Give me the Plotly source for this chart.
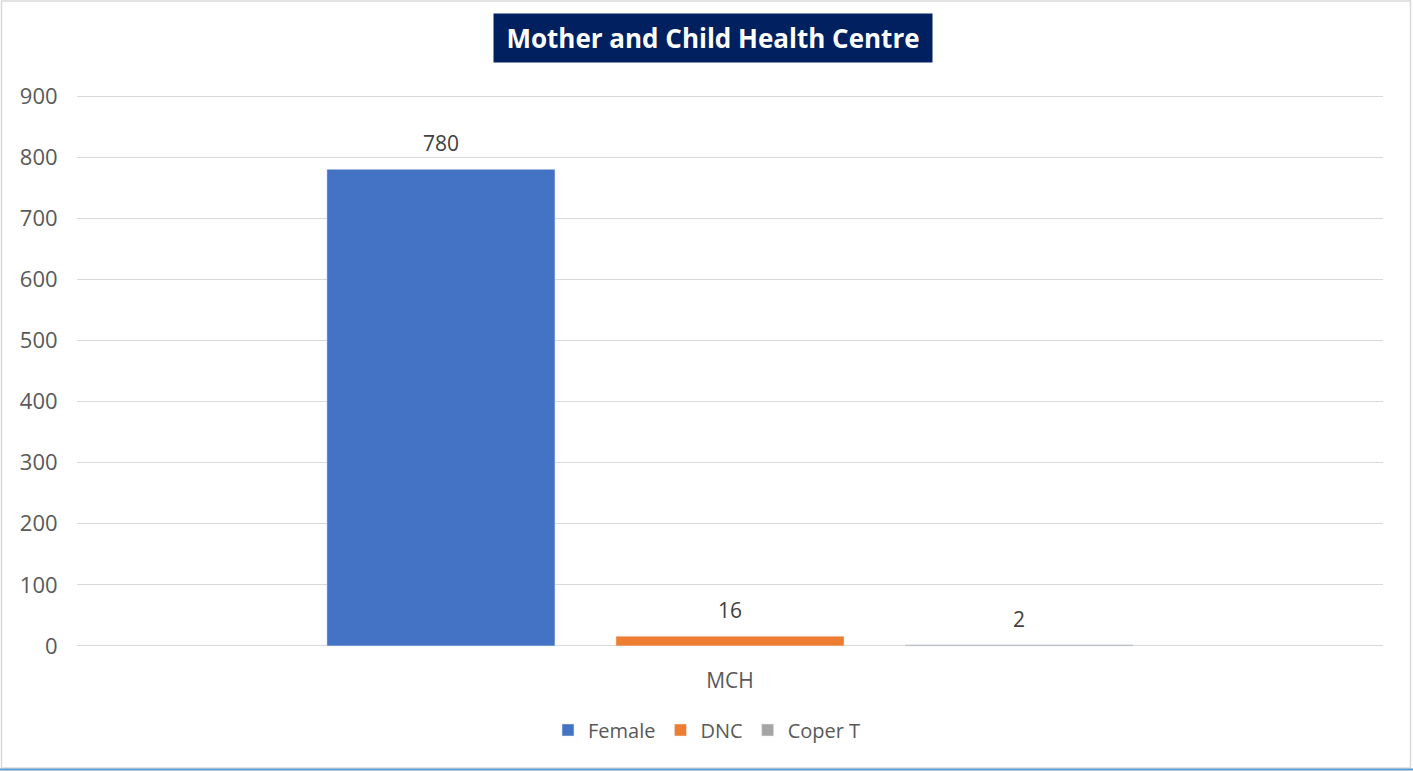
import plotly.graph_objects as go

categories = ["MCH"]
series_names = ["Female", "DNC", "Coper T"]
series_values = [[780], [16], [2]]
series_colors = ["#4472C4", "#ED7D31", "#A5A5A5"]
y_ticks = [0, 100, 200, 300, 400, 500, 600, 700, 800, 900]

W, H = 1413, 771
ml, mr, mt, mb = 77, 30, 93, 122
pw, ph = W - ml - mr, H - mt - mb
bar_step = 289  # px between neighbouring bar centres

def px_x(p):
    return (p - ml) / pw

def px_y(p):
    return (H - mb - p) / ph

fig = go.Figure()
notes = []
for i, (name, vals, col) in enumerate(zip(series_names, series_values, series_colors)):
    fig.add_trace(go.Bar(x=categories, y=vals, name=name, marker_color=col))
    for c, v in zip(categories, vals):
        notes.append(dict(
            x=c, y=v, xref="x", yref="y", text=str(v), showarrow=False,
            xshift=(i - 1) * bar_step, yshift=10, yanchor="bottom",
            font=dict(size=21, color="#404040"),
        ))

notes.append(dict(
    text="<b>Mother and Child Health Centre</b>", x=px_x(713), y=px_y(38),
    xref="paper", yref="paper", showarrow=False, width=424, height=34,
    font=dict(size=26, color="white", family="Open Sans, Liberation Sans, sans-serif"),
    bgcolor="#002060", borderpad=7, xanchor="center", yanchor="middle",
))

fig.update_layout(
    width=W, height=H,
    margin=dict(l=ml, r=mr, t=mt, b=mb),
    paper_bgcolor="white", plot_bgcolor="white",
    barmode="group", bargap=0.336, bargroupgap=0.211,
    font=dict(family="Open Sans, Liberation Sans, sans-serif", color="#595959", size=18),
    showlegend=True,
    legend=dict(orientation="h", x=px_x(707), xanchor="center", y=px_y(730), yanchor="middle",
                font=dict(size=20, color="#595959"), itemwidth=30, traceorder="normal"),
    xaxis=dict(showgrid=False, showline=False, ticks="", ticklabelstandoff=17,
               tickfont=dict(size=21, color="#595959")),
    yaxis=dict(range=[-5, 905], tickvals=y_ticks, showgrid=True, gridcolor="#D9D9D9",
               gridwidth=1, zeroline=False, showline=False, ticks="outside",
               ticklen=14, tickcolor="white", tickfont=dict(size=22, color="#595959")),
    annotations=notes,
    shapes=[
        dict(type="rect", xref="paper", yref="paper",
             x0=px_x(1.5), x1=px_x(W - 2.5), y0=px_y(H - 3), y1=px_y(1),
             line=dict(color="#D9D9D9", width=1.5)),
        dict(type="line", xref="paper", yref="paper",
             x0=px_x(0), x1=px_x(W), y0=px_y(H - 1.5), y1=px_y(H - 1.5),
             line=dict(color="#5B9BD5", width=2)),
    ],
)

fig.write_html("out.html", config={"displayModeBar": False},
               post_script="document.body.style.margin='0';")
